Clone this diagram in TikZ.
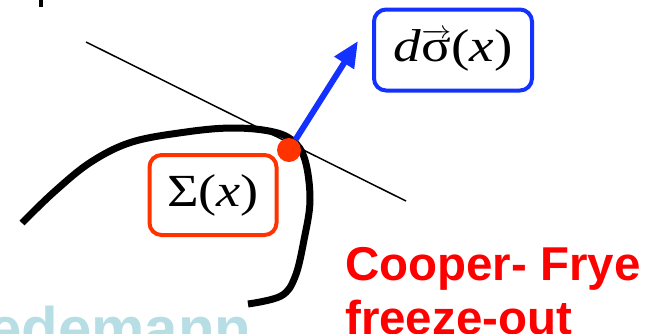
\documentclass[tikz,border=0pt]{standalone}
\usepackage{fontspec}
\usepackage{graphicx}
\setmainfont{Liberation Serif}
\newfontfamily\arialb[Scale=1]{Liberation Sans}
\usetikzlibrary{arrows.meta}
\definecolor{boxblue}{RGB}{20,50,255}
\definecolor{boxred}{RGB}{255,51,0}
\definecolor{cfred}{RGB}{255,0,0}
\definecolor{wmblue}{RGB}{182,222,228}
\tikzset{
  mathbox/.style={draw, line width=4pt, rounded corners=12pt, fill=white, inner sep=0pt, font=\fontsize{46}{50}\selectfont},
  thinline/.style={line width=1.5pt, black},
  thickcurve/.style={line width=7pt, black, line cap=butt},
  reddot/.style={circle, fill=boxred, minimum size=24pt, inner sep=0pt},
  normalarrow/.style={boxblue, line width=6pt, -{Triangle[length=26pt,width=22pt]}},
  cftext/.style={anchor=base west, inner sep=0pt, text=cfred, font=\arialb\bfseries\fontsize{47.5}{50}\selectfont},
  wmtext/.style={anchor=base west, inner sep=0pt, text=wmblue, font=\arialb\bfseries\fontsize{60}{60}\selectfont}
}
\begin{document}
\begin{tikzpicture}[x=1pt,y=-1pt]
\useasboundingbox (0,0) rectangle (649,333);
\clip (0,0) rectangle (649,333);
% watermark
\node[wmtext] (wm) at (-12,349) {edemann};
% tick at top left
\fill[black] (39,0) rectangle (43,7);
% thin tangent line
\coordinate (t1) at (86,42);
\coordinate (t2) at (406,201);
\draw[thinline] (t1) -- (t2);
% thick freeze-out curve
\draw[thickcurve] plot[smooth, tension=0.6] coordinates {(22,223) (54,192) (91,162) (132,142) (186,132) (231,128) (269,131) (292,140) (305,160) (310,200) (304,240) (295,277) (281,296) (248,304)};
% boxes
\node[mathbox, draw=boxblue, minimum width=158pt, minimum height=81pt] (sigma) at (453,50) {\scalebox{1.2}[1]{\textit{d}$\overrightarrow{\hbox{σ}}$(\textit{x})}};
\node[mathbox, draw=boxred, minimum width=127pt, minimum height=80pt] (Sig) at (213,195) {\scalebox{1.18}[1]{Σ(\textit{x})}};
% point and normal vector
\node[reddot] (dot) at (289,150) {};
\coordinate (tip) at (358,41);
\draw[normalarrow] (dot) -- (tip);
% label
\node[cftext] (cf1) at (345,280) {Cooper- Frye};
\node[cftext] (cf2) at (345,334) {freeze-out};
\end{tikzpicture}
\end{document}
